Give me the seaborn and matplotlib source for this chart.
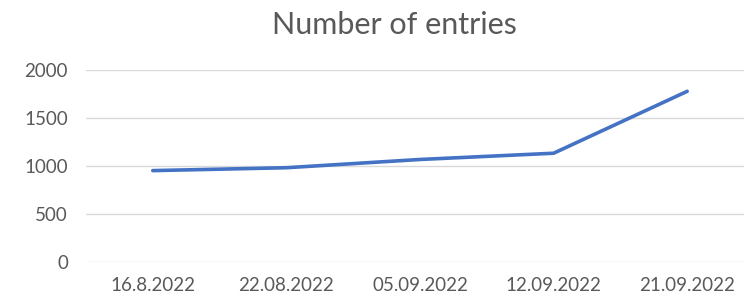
import pandas as pd
import seaborn as sns
import matplotlib.pyplot as plt

# data
dates = ['16.8.2022', '22.08.2022', '05.09.2022', '12.09.2022', '21.09.2022']
entries = [952, 982, 1068, 1133, 1778]

df = pd.DataFrame({'date': dates, 'entries': entries})

sns.set_style('white')
plt.rcParams['font.family'] = ['Lato', 'DejaVu Sans']

fig = plt.figure(figsize=(7.44, 2.96), dpi=100)
# plot area runs past the right edge, like the original
ax = fig.add_axes([86/744, 34/296, 668/744, 192/296])

sns.lineplot(x='date', y='entries', data=df, color='#4472C4',
             linewidth=2.6, solid_capstyle='round', ax=ax)

ax.set_xlim(-0.5, 4.5)
ax.set_ylim(0, 2000)
ax.set_yticks([0, 500, 1000, 1500, 2000])
ax.yaxis.grid(True, color='#D9D9D9', linewidth=1)
ax.set_axisbelow(True)
sns.despine(ax=ax, left=True, bottom=True, top=True, right=True)
ax.tick_params(axis='both', length=0, labelsize=13.5, colors='#595959')
ax.tick_params(axis='y', pad=13)
ax.tick_params(axis='x', pad=11)
ax.set_xlabel('')
ax.set_ylabel('')

fig.text(394/744, 1 - 25/296, 'Number of entries', ha='center', va='center',
         fontsize=22, color='#595959')

plt.savefig('out.png', dpi=100)
